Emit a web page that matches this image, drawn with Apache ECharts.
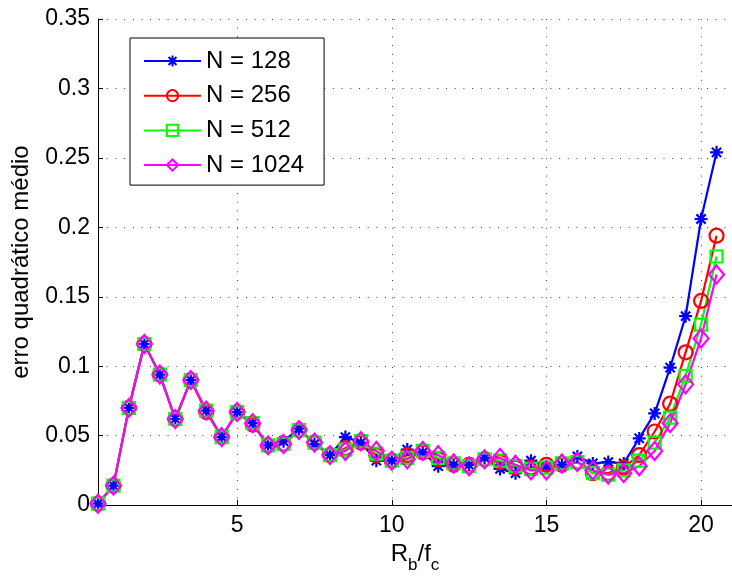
<!DOCTYPE html>
<html><head><meta charset="utf-8">
<script src="https://cdn.jsdelivr.net/npm/echarts@6/dist/echarts.min.js"></script>
<style>html,body{margin:0;padding:0;background:#fff}#c{width:732px;height:579px}</style>
</head><body><div id="c"></div>
<script>
const xValues = [0.5,1,1.5,2,2.5,3,3.5,4,4.5,5,5.5,6,6.5,7,7.5,8,8.5,9,9.5,10,10.5,11,11.5,12,12.5,13,13.5,14,14.5,15,15.5,16,16.5,17,17.5,18,18.5,19,19.5,20,20.5];
const n128 = [0.001,0.014,0.070,0.116,0.094,0.062,0.090,0.068,0.049,0.067,0.059,0.043,0.046,0.055,0.044,0.036,0.049,0.045,0.032,0.032,0.040,0.038,0.028,0.029,0.029,0.034,0.026,0.023,0.032,0.028,0.029,0.035,0.030,0.031,0.030,0.048,0.066,0.099,0.136,0.206,0.254];
const n256 = [0.001,0.014,0.070,0.116,0.094,0.062,0.090,0.067,0.049,0.067,0.058,0.043,0.044,0.054,0.045,0.036,0.041,0.045,0.036,0.032,0.036,0.038,0.033,0.029,0.029,0.033,0.031,0.027,0.027,0.029,0.029,0.031,0.023,0.023,0.027,0.036,0.053,0.073,0.110,0.147,0.194];
const n512 = [0.001,0.014,0.070,0.116,0.094,0.062,0.090,0.068,0.049,0.067,0.059,0.043,0.044,0.054,0.045,0.036,0.040,0.046,0.037,0.032,0.034,0.039,0.034,0.030,0.028,0.033,0.032,0.028,0.026,0.027,0.030,0.031,0.023,0.022,0.025,0.032,0.045,0.063,0.093,0.130,0.179];
const n1024 = [0.001,0.014,0.070,0.116,0.094,0.062,0.090,0.068,0.049,0.067,0.059,0.043,0.044,0.054,0.045,0.036,0.039,0.046,0.039,0.032,0.033,0.039,0.036,0.030,0.028,0.033,0.034,0.029,0.025,0.025,0.030,0.031,0.025,0.022,0.023,0.028,0.039,0.059,0.087,0.120,0.166];
const seriesNames = ['N = 128','N = 256','N = 512','N = 1024'];

const FONT = 'Liberation Sans';
const grid = {left:98, top:19, right:-4, bottom:71};
const dotted = {color:'#444', width:1, type:[1,7.7]};

function mk(name, vals, color, symbol, size, extra){
  return Object.assign({
    name, type:'line', data: xValues.map((x,i)=>[x, vals[i]]),
    symbol, symbolSize:size, showSymbol:true,
    lineStyle:{color, width:2.2},
    itemStyle:{color:'rgba(0,0,0,0)', borderColor:color, borderWidth:2.2},
    emphasis:{disabled:true}, z:2
  }, extra||{});
}
const asterisk = 'path://M0,5L10,5M5,0L5,10M1.46,1.46L8.54,8.54M8.54,1.46L1.46,8.54';

const chart = echarts.init(document.getElementById('c'), null, {renderer:'canvas'});
chart.setOption({
  animation:false,
  backgroundColor:'#fff',
  textStyle:{fontFamily:FONT},
  grid,
  legend:{
    orient:'vertical', left:130, top:38,
    padding:[11,20,8,13],
    itemWidth:57, itemHeight:14, itemGap:10.7,
    backgroundColor:'#fff', borderColor:'#000', borderWidth:1,
    textStyle:{fontFamily:FONT, fontSize:24, color:'#000', lineHeight:24, padding:[0,0,0,0]},
    data: seriesNames
  },
  xAxis:{
    type:'value', min:0.5, max:21, splitNumber:4,
    axisLine:{show:true, onZero:false, lineStyle:{color:'#000', width:1}},
    axisTick:{show:true, inside:true, length:5, lineStyle:{color:'#000'}},
    axisLabel:{fontFamily:FONT, fontSize:23, color:'#000', margin:9, showMinLabel:false, showMaxLabel:false},
    splitLine:{show:true, lineStyle:dotted},
    name:'{r|R}{s|b}{r|/f}{s|c}', nameLocation:'middle', nameGap:35,
    nameTextStyle:{rich:{
      r:{fontFamily:FONT, fontSize:24, color:'#000', lineHeight:24, verticalAlign:'bottom', padding:[0,0,8,0]},
      s:{fontFamily:FONT, fontSize:17, color:'#000', lineHeight:17, verticalAlign:'bottom'}
    }}
  },
  yAxis:{
    type:'value', min:0, max:0.35, interval:0.05,
    axisLine:{show:true, lineStyle:{color:'#000', width:1}},
    axisTick:{show:true, inside:true, length:5, lineStyle:{color:'#000'}},
    axisLabel:{fontFamily:FONT, fontSize:23, color:'#000', margin:8},
    splitLine:{show:true, lineStyle:dotted},
    name:'erro quadrático médio', nameLocation:'middle', nameGap:65,
    nameTextStyle:{fontFamily:FONT, fontSize:24, color:'#000'}
  },
  series:[
    mk(seriesNames[0], n128, '#0000ff', asterisk, 13, {itemStyle:{color:'#0000ff', borderColor:'#0000ff', borderWidth:2.2}}),
    mk(seriesNames[1], n256, '#ff0000', 'circle', 14),
    mk(seriesNames[2], n512, '#00ff00', 'rect', 12),
    mk(seriesNames[3], n1024, '#ff00ff', 'diamond', [15,18])
  ]
});
</script>
</body></html>
